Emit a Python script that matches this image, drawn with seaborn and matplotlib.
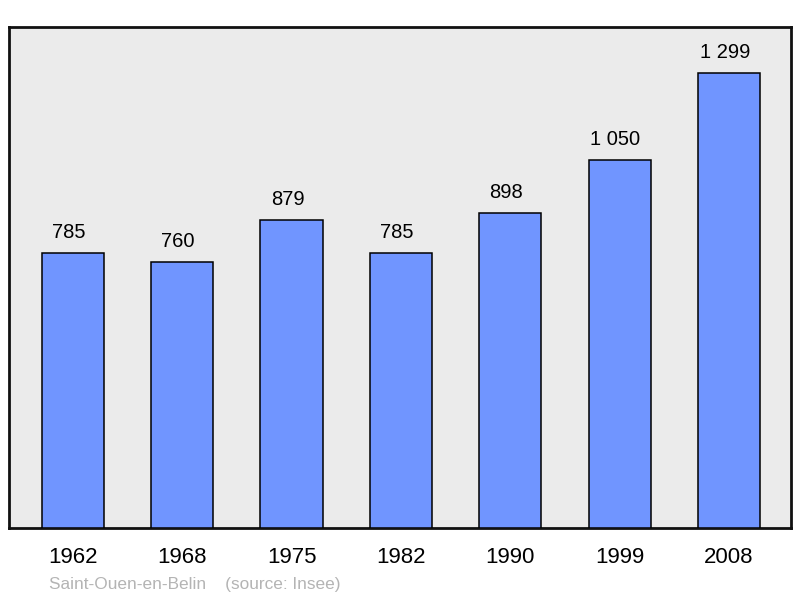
import matplotlib
matplotlib.use("Agg")
import matplotlib.pyplot as plt
import seaborn as sns
import pandas as pd

years = ["1962", "1968", "1975", "1982", "1990", "1999", "2008"]
population = [785, 760, 879, 785, 898, 1050, 1299]
value_labels = ["785", "760", "879", "785", "898", "1 050", "1 299"]
commune = "Saint-Ouen-en-Belin"
source = "(source: Insee)"

sns.set_style("white")
plt.rcParams['font.family'] = ['Liberation Sans', 'DejaVu Sans']

df = pd.DataFrame({'year': years, 'pop': population})

fig = plt.figure(figsize=(8, 5.98), dpi=100)
ax = fig.add_axes([0.01125, 0.117, 0.9775, 0.8378])
ax.set_facecolor('#ebebeb')

sns.barplot(data=df, x='year', y='pop', color='#7095ff', saturation=1,
            width=0.57, edgecolor='black', linewidth=1.1, ax=ax, zorder=3)

# value labels sit a little left of the bar centre, as in the source
for i, (v, lab) in enumerate(zip(population, value_labels)):
    ax.annotate(lab, (i, v), xytext=(-3, 8), textcoords='offset points',
                ha='center', va='bottom', fontsize=14.5, color='black')

ax.set_xlim(-0.585, 6.567)
ax.set_ylim(0, 1430)
ax.set_yticks([])
ax.set_xlabel('')
ax.set_ylabel('')
ax.tick_params(axis='x', length=0, labelsize=16, pad=14, colors='black')
for s in ax.spines.values():
    s.set_visible(True)
    s.set_color('#111111')
    s.set_linewidth(2)

fig.text(49 / 800, 1 - 584 / 598, commune + "    " + source,
         fontsize=12.4, color='#b4b4b4', ha='left', va='center')

fig.savefig('out.png', dpi=100)
